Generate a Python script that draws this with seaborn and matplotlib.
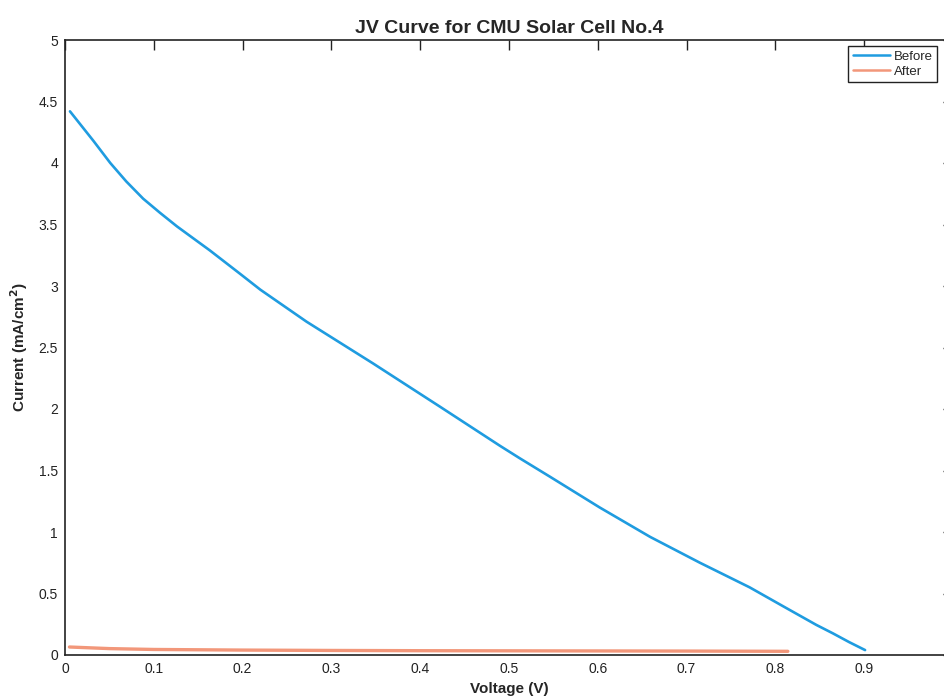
import matplotlib
matplotlib.use("Agg")
import matplotlib.pyplot as plt
import seaborn as sns
import pandas as pd

# ---- data ----
before_v = [0.0056, 0.032, 0.051, 0.069, 0.088, 0.107, 0.126, 0.144, 0.163, 0.197,
            0.220, 0.272, 0.347, 0.422, 0.490, 0.512, 0.546, 0.602, 0.659, 0.715,
            0.771, 0.809, 0.846, 0.865, 0.883, 0.901]
before_j = [4.42, 4.18, 4.00, 3.85, 3.71, 3.595, 3.485, 3.39, 3.29, 3.10,
            2.97, 2.71, 2.37, 2.02, 1.70, 1.60, 1.45, 1.20, 0.96, 0.75,
            0.55, 0.395, 0.245, 0.175, 0.105, 0.04]
after_v = [0.005, 0.05, 0.1, 0.2, 0.3, 0.4, 0.5, 0.6, 0.7, 0.814]
after_j = [0.065, 0.052, 0.045, 0.040, 0.037, 0.035, 0.034, 0.033, 0.032, 0.030]

x_ticks = [0, 0.1, 0.2, 0.3, 0.4, 0.5, 0.6, 0.7, 0.8, 0.9, 1.0]
x_tick_labels = ["0", "0.1", "0.2", "0.3", "0.4", "0.5", "0.6", "0.7", "0.8", "0.9", ""]
y_ticks = [0, 0.5, 1, 1.5, 2, 2.5, 3, 3.5, 4, 4.5, 5]
y_tick_labels = ["0", "0.5", "1", "1.5", "2", "2.5", "3", "3.5", "4", "4.5", "5"]
series_names = ["Before", "After"]
colors = {"Before": "#1f9ce0", "After": "#f2977a"}

df = pd.concat([
    pd.DataFrame({"Voltage": before_v, "Current": before_j, "Series": "Before"}),
    pd.DataFrame({"Voltage": after_v, "Current": after_j, "Series": "After"}),
], ignore_index=True)

sns.set_theme(style="white")
plt.rcParams["font.family"] = ["Liberation Sans", "DejaVu Sans"]

fig = plt.figure(figsize=(9.44, 6.99), dpi=100)
ax = fig.add_axes([65 / 944, 44 / 699, 888 / 944, 615 / 699])

sns.lineplot(data=df, x="Voltage", y="Current", hue="Series", hue_order=series_names,
             palette=colors, sort=False, estimator=None, ax=ax, linewidth=1.8)
for line, lw in zip(ax.lines, [1.9, 2.4]):
    line.set_linewidth(lw)
    line.set_solid_joinstyle("round")

ax.set_xlim(0, 1)
ax.set_ylim(0, 5)
ax.set_xticks(x_ticks)
ax.set_xticklabels(x_tick_labels)
ax.set_yticks(y_ticks)
ax.set_yticklabels(y_tick_labels)
ax.tick_params(direction="in", length=7, width=1.0, top=True, right=True,
               labelsize=10, colors="#222222", pad=5)
for s in ax.spines.values():
    s.set_color("#222222")
    s.set_linewidth(1.2)

ax.set_xlabel("Voltage (V)", fontsize=11, fontweight="bold", labelpad=4)
ax.set_ylabel("Current (mA/cm$^\\mathbf{2}$)", fontsize=11, fontweight="bold", labelpad=6)
ax.set_title("JV Curve for CMU Solar Cell No.4", fontsize=14, fontweight="bold", pad=5)

leg = ax.legend(loc="upper right", bbox_to_anchor=(0.9825, 0.99), fontsize=9.5,
                frameon=True, fancybox=False, framealpha=1, edgecolor="#222222",
                handlelength=2.8, handletextpad=0.3, borderpad=0.35, labelspacing=0.2,
                borderaxespad=0.0, title=None)
leg.get_frame().set_linewidth(1.0)

fig.savefig("out.png", dpi=100)
